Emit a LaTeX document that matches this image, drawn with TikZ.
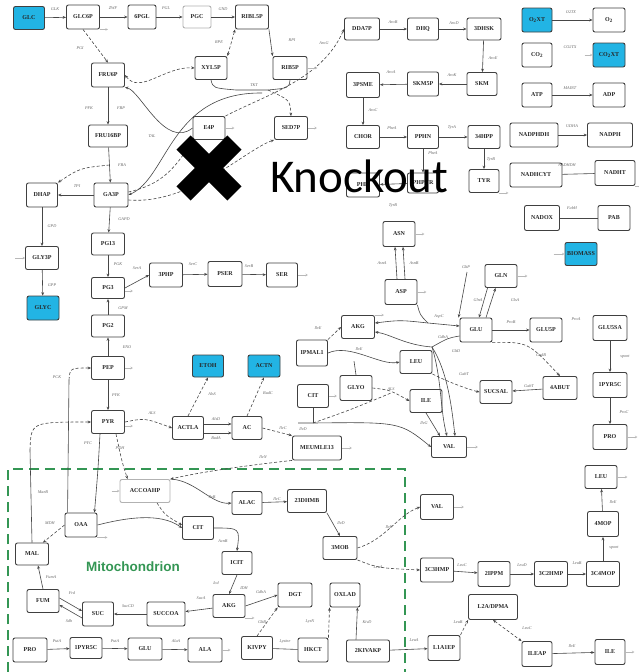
\documentclass[tikz,border=0pt]{standalone}
\usepackage{fontspec}
\setmainfont{Liberation Serif}
\newfontfamily\kofont{Carlito}
\newfontfamily\mitofont{Liberation Sans}
\usetikzlibrary{arrows.meta,calc}
\definecolor{exch}{RGB}{34,180,228}
\definecolor{mitogreen}{RGB}{52,150,84}
\definecolor{edgegray}{RGB}{70,70,70}
\tikzset{
  met/.style={draw=black!75, line width=0.9pt, rounded corners=2pt, fill=white,
    font=\bfseries\fontsize{6}{6.5}\selectfont, inner sep=0.5pt,
    minimum width=32pt, minimum height=23pt, text=black!85},
  ext/.style={met, fill=exch},
  faint/.style={met, draw=black!30},
  rx/.style={draw=edgegray, line width=0.6pt},
  fw/.style={rx, -{Stealth[length=3.4pt,width=2.8pt]}},
  bw/.style={rx, {Stealth[length=3.4pt,width=2.8pt]}-{Stealth[length=3.4pt,width=2.8pt]}},
  dsh/.style={dash pattern=on 3pt off 2pt},
  en/.style={font=\itshape\fontsize{4.2}{4.6}\selectfont, text=black!60, inner sep=0pt},
  drain/.style={draw=black!28, line width=0.6pt, -{Stealth[length=2.5pt,width=2.6pt,open]}},
}
\begin{document}
\begin{tikzpicture}[x=1pt,y=-1pt]
\useasboundingbox (0,0) rectangle (638,672);
\fill[white] (0,0) rectangle (638,672);

% ---------------- mitochondrion frame ----------------
\draw[mitogreen, line width=1.4pt, dash pattern=on 10pt off 6pt] (8,672) -- (8,469) -- (405,469) -- (405,672);
\node[font=\mitofont\bfseries\fontsize{13.5}{14}\selectfont, text=mitogreen] (mitolab) at (133,567) {Mitochondrion};

% ---------------- glycolysis, PPP, serine ----------------
\node[ext, minimum width=31pt] (glc) at (29,18) {GLC};
\node[met, minimum width=33pt, minimum height=24pt] (g6p) at (83,17) {GLC6P};
\node[met, minimum width=28pt, minimum height=24pt] (pgl) at (142,17) {6PGL};
\node[faint, minimum width=28pt, minimum height=22pt] (pgc) at (197,17) {PGC};
\node[met, minimum width=33pt, minimum height=24pt] (ru5p) at (252,17) {RIBL5P};
\node[met] (x5p) at (211,68) {XYL5P};
\node[met, minimum width=34pt] (r5p) at (290,68) {RIB5P};
\node[met] (e4p) at (209,128) {E4P};
\node[met, minimum width=33pt] (s7p) at (291,128) {SED7P};
\node[met, minimum width=33pt, minimum height=24pt] (f6p) at (108,75) {FRU6P};
\node[met, minimum width=39pt, minimum height=22pt] (fdp) at (108,136) {FRU16BP};
\node[met, minimum width=31pt, minimum height=24pt] (dhap) at (42,195) {DHAP};
\node[met, minimum width=34pt, minimum height=24pt] (gap) at (111,195) {GA3P};
\node[met, minimum width=33pt] (g3p) at (42,258) {GLY3P};
\node[ext, minimum height=24pt] (glyc) at (43,308) {GLYC};
\node[met, minimum width=33pt, minimum height=22pt] (pgaa) at (108,244) {PG13};
\node[met, minimum width=33pt, minimum height=21pt] (pgab) at (108,288) {PG3};
\node[met, minimum width=33pt, minimum height=22pt] (pgac) at (108,326) {PG2};
\node[met, minimum width=33pt] (pep) at (108,368) {PEP};
\node[met, minimum width=33pt] (pyr) at (108,422) {PYR};
\node[met, minimum width=33pt, minimum height=24pt] (php) at (166,275) {3PHP};
\node[met, minimum width=34pt, minimum height=25pt] (pser) at (225,274) {PSER};
\node[met, minimum width=31pt, minimum height=24pt] (ser) at (282,275) {SER};

% ---------------- acetolactate branch ----------------
\node[met, minimum width=31pt] (actla) at (188,428) {ACTLA};
\node[met, minimum width=30pt] (ac) at (247,428) {AC};
\node[ext, minimum width=31pt, minimum height=22pt] (etoh) at (208,366) {ETOH};
\node[ext, minimum width=32pt, minimum height=22pt] (actn) at (264,366) {ACTN};
\node[met, minimum width=49pt, minimum height=24pt] (dhmv) at (317,448) {MEUMLE13};

% ---------------- shikimate ----------------
\node[met, minimum width=35pt, minimum height=22pt] (dahp) at (362,29) {DDA7P};
\node[met, minimum width=31pt, minimum height=22pt] (dhq) at (423,29) {DHQ};
\node[met, minimum width=34pt, minimum height=22pt] (dhsk) at (484,29) {3DHSK};
\node[met, minimum width=30pt] (skm) at (482,84) {SKM};
\node[met, minimum width=31pt, minimum height=24pt] (skmp) at (423,84) {SKM5P};
\node[met, minimum width=33pt, minimum height=25pt] (epsp) at (363,85) {3PSME};
\node[met, minimum width=33pt] (chor) at (363,137) {CHOR};
\node[met, minimum width=31pt] (pphn) at (423,137) {PPHN};
\node[met, minimum width=32pt] (hpp) at (484,137) {34HPP};
\node[met, minimum width=33pt, minimum height=24pt] (phe) at (363,185) {PHE};
\node[met, minimum width=31pt, minimum height=20pt] (phpyr) at (423,183) {PHPYR};
\node[met, minimum width=30pt] (tyr) at (484,181) {TYR};

% ---------------- exchange / cofactor pairs ----------------
\node[ext, minimum width=30pt, minimum height=24pt] (oxt) at (537,20) {O\textsubscript{2}XT};
\node[met, minimum width=32pt, minimum height=24pt] (oxy) at (609,20) {O\textsubscript{2}};
\node[met, minimum width=30pt, minimum height=24pt] (cod) at (537,55) {CO\textsubscript{2}};
\node[ext, minimum width=32pt, minimum height=24pt] (codx) at (609,55) {CO\textsubscript{2}XT};
\node[met, minimum width=30pt, minimum height=24pt] (atp) at (537,95) {ATP};
\node[met, minimum width=32pt, minimum height=24pt] (adp) at (609,95) {ADP};
\node[met, minimum width=48pt, minimum height=24pt] (nadphh) at (534,135) {NADPHDH};
\node[met, minimum width=45pt, minimum height=24pt] (nadph) at (610,135) {NADPH};
\node[met, minimum width=52pt, minimum height=24pt] (nadhc) at (536,175) {NADHCYT};
\node[met, minimum width=40pt, minimum height=25pt] (nadht) at (615,173) {NADHT};
\node[met, minimum width=35pt, minimum height=25pt] (nadox) at (542,218) {NADOX};
\node[met, minimum width=32pt, minimum height=25pt] (pab) at (614,218) {PAB};
\node[ext, minimum width=32pt] (biom) at (581,254) {BIOMASS};

% ---------------- amino acids (cytosol) ----------------
\node[met, minimum width=32pt, minimum height=25pt] (asn) at (399,234) {ASN};
\node[met, minimum width=32pt, minimum height=25pt] (asp) at (401,292) {ASP};
\node[met, minimum width=32pt] (gln) at (501,276) {GLN};
\node[met, minimum width=33pt] (akg) at (358,327) {AKG};
\node[met, minimum width=32pt, minimum height=24pt] (glu) at (476,330) {GLU};
\node[met, minimum width=32pt, minimum height=24pt] (glup) at (546,330) {GLU5P};
\node[met, minimum width=34pt, minimum height=25pt] (glusa) at (610,328) {GLU5SA};
\node[met, minimum width=34pt, minimum height=25pt] (pyrc) at (610,385) {1PYR5C};
\node[met, minimum width=34pt, minimum height=25pt] (pro) at (610,437) {PRO};
\node[met, minimum width=34pt] (gaba) at (560,388) {4ABUT};
\node[met, minimum width=32pt] (sucsal) at (496,392) {SUCSAL};
\node[met, minimum width=31pt, minimum height=26pt] (ipmal) at (312,353) {IPMAL1};
\node[met, minimum width=32pt] (leuc) at (416,362) {LEU};
\node[met, minimum width=32pt, minimum height=25pt] (glyo) at (356,388) {GLYO};
\node[met, minimum width=32pt] (ile) at (426,401) {ILE};
\node[met, minimum width=31pt] (citc) at (313,396) {CIT};
\node[met, minimum width=35pt, minimum height=21pt] (valc) at (449,447) {VAL};

% ---------------- mitochondrial ----------------
\node[faint, minimum width=50pt] (accoa) at (145,491) {ACCOAHP};
\node[met, minimum width=32pt, minimum height=24pt] (oaa) at (81,525) {OAA};
\node[met, minimum width=33pt, minimum height=22pt] (mal) at (32,554) {MAL};
\node[met, minimum width=32pt] (fum) at (43,601) {FUM};
\node[met, minimum width=31pt, minimum height=24pt] (suc) at (98,614) {SUC};
\node[met, minimum width=38pt, minimum height=24pt] (succoa) at (166,614) {SUCCOA};
\node[met, minimum width=34pt, minimum height=24pt] (prom) at (30,650) {PRO};
\node[met, minimum width=32pt, minimum height=21pt] (pyrcm) at (86,648) {1PYR5C};
\node[met, minimum width=34pt, minimum height=22pt] (glum) at (145,649) {GLU};
\node[met, minimum width=34pt, minimum height=24pt] (ala) at (205,650) {ALA};
\node[met, minimum width=30pt] (alac) at (247,503) {ALAC};
\node[met, minimum width=39pt] (dhmb) at (307,501) {23DHMB};
\node[met, minimum width=31pt] (cit) at (198,528) {CIT};
\node[met, minimum width=30pt] (icit) at (237,563) {ICIT};
\node[met, minimum width=32pt] (akgm) at (229,606) {AKG};
\node[met, minimum width=34pt, minimum height=24pt] (dgt) at (295,595) {DGT};
\node[met, minimum width=31pt] (kivpy) at (257,648) {KIVPY};
\node[met, minimum width=30pt, minimum height=24pt] (hkct) at (313,650) {HKCT};
\node[met, minimum width=30pt, minimum height=24pt] (oxlad) at (345,595) {OXLAD};
\node[met, minimum width=34pt] (mob) at (340,548) {3MOB};
\node[met, minimum width=43pt, minimum height=22pt] (kivakp) at (368,651) {2KIVAKP};
\node[met, minimum width=32pt, minimum height=25pt] (laep) at (444,648) {L1A1EP};
\node[met, minimum width=49pt, minimum height=25pt] (ladp) at (493,607) {L2A/DPMA};
\node[met, minimum width=30pt, minimum height=25pt] (ileap) at (537,654) {ILEAP};
\node[met, minimum width=30pt, minimum height=25pt] (ilex) at (610,652) {ILE};
\node[met, minimum width=33pt, minimum height=25pt] (valm) at (437,507) {VAL};
\node[met, minimum width=33pt, minimum height=24pt] (cthmp) at (437,570) {3C3HMP};
\node[met, minimum width=32pt, minimum height=25pt] (ipm) at (494,574) {2IPPM};
\node[met, minimum width=33pt, minimum height=25pt] (cthmpb) at (551,574) {3C2HMP};
\node[met, minimum width=33pt, minimum height=25pt] (cmop) at (603,574) {3C4MOP};
\node[met, minimum width=31pt, minimum height=25pt] (mop) at (603,524) {4MOP};
\node[met, minimum width=32pt] (leu) at (601,477) {LEU};

% ================= reactions =================
% upper glycolysis and pentose phosphate
\draw[fw] (glc) -- (g6p);            \node[en] (lglk) at (55,9) {GLK};
\draw[fw] (g6p) -- (pgl);            \node[en] (lzwf) at (113,8) {ZWF};
\draw[fw] (pgl) -- (pgc);            \node[en] (lpgl) at (166,8) {PGL};
\draw[fw] (pgc) -- (ru5p);           \node[en] (lgnd) at (223,9) {GND};
\draw[bw, dsh] (x5p.north east) -- (ru5p.south west); \node[en] (lrpe) at (219,42) {RPE};
\draw[fw] (ru5p.south east) -- (r5p.north west);      \node[en] (lrpi) at (292,40) {RPI};
\coordinate (tktl) at (236,90);
\coordinate (tktr) at (268,90);
\draw[rx] (x5p.south) .. controls (213,88) .. (tktl) -- (tktr) .. controls (289,88) .. (r5p.south);
\node[en] (ltkt) at (254,85) {TKT};
\draw[fw, dsh] (tktr) .. controls (290,100) .. (s7p.north);
\coordinate (tktm) at (262,93);
\draw[fw] (tktm) .. controls (170,92) and (168,178) .. (gap.east);
\draw[fw, dsh] ($(gap.east)+(0,5)$) .. controls (190,205) and (245,150) .. (s7p.south west);
\draw[rx, dsh] ($(gap.east)+(0,-3)$) .. controls (160,185) and (175,170) .. (e4p.south west);
\draw[bw, dsh] (f6p.east) .. controls (140,95) and (165,66) .. (x5p.west);
\draw[fw] (e4p.west) .. controls (165,150) and (140,90) .. (f6p.south east);
\node[en] (ltal) at (152,136) {TAL};
\draw[fw, dsh] (e4p.north east) .. controls (265,95) and (322,80) .. (dahp.west);
\node[en] (laroga) at (324,43) {AroG};
\draw[fw, dsh] (g6p.south) -- (f6p.north);  \node[en] (lpgi) at (80,48) {PGI};
\draw[fw] (f6p) -- (fdp);   \node[en] (lpfk) at (89,108) {PFK}; \node[en] (lfbp) at (121,108) {FBP};
\draw[fw] (fdp) -- (gap);   \node[en] (lfba) at (122,165) {FBA};
\coordinate (fbaj) at ($(fdp.south)!0.5!(gap.north)$);
\draw[fw, dsh] (fbaj) .. controls (80,168) .. (dhap.north east);
\draw[fw] (gap) -- (dhap);  \node[en] (ltpi) at (77,186) {TPI};
\draw[fw] (dhap) -- (g3p);  \node[en] (lgpd) at (52,226) {GPD};
\draw[fw] (g3p) -- (glyc);  \node[en] (lgpp) at (52,285) {GPP};
\draw[fw] (gap) -- (pgaa);  \node[en] (lgapd) at (124,219) {GAPD};
\draw[fw] (pgaa) -- (pgab); \node[en] (lpgk) at (118,264) {PGK};
\draw[fw] (pgac) -- (pgab); \node[en] (lgpm) at (123,308) {GPM};
\draw[fw] (pep) -- (pgac);  \node[en] (leno) at (127,347) {ENO};
\draw[fw] (pep) -- (pyr);   \node[en] (lpyk) at (116,395) {PYK};
\draw[fw] (pgab.east) -- (php.west); \node[en] (lsera) at (137,268) {SerA};
\draw[fw] (php) -- (pser);  \node[en] (lserc) at (193,264) {SerC};
\draw[fw] (pser) -- (ser);  \node[en] (lserb) at (249,266) {SerB};

% pyruvate node
\draw[fw, dsh] (pyr.east) .. controls (145,418) .. (actla.west); \node[en] (lals) at (152,413) {ALS};
\draw[fw] ($(actla.east)+(0,-4)$) -- ($(ac.west)+(0,-4)$); \node[en] (lalsd) at (216,419) {AlsD};
\draw[fw] ($(actla.east)+(0,5)$) -- ($(ac.west)+(0,5)$);   \node[en] (lbuda) at (216,438) {BudA};
\draw[fw, dsh] (actla.north) -- (etoh.south);  \node[en] (lalsx) at (212,394) {AlsS};
\draw[fw, dsh] (ac.north) -- (actn.south);     \node[en] (lbudc) at (268,393) {BudC};
\draw[fw, dsh] (ac.east) -- (dhmv.north west); \node[en] (lilvc) at (283,428) {IlvC};
\draw[fw] ($(pyr.south)+(-8,0)$) .. controls (98,470) .. ($(oaa.north east)+(-3,0)$);
\node[en] (lpyc) at (88,443) {PYC};
\draw[fw, dsh] ($(pyr.south)+(8,0)$) .. controls (122,462) .. ($(accoa.north west)+(8,0)$);
\node[en] (lpdh) at (120,448) {PDH};
\coordinate (pckb) at (69,380);
\draw[rx] ($(oaa.north west)+(3,0)$) -- (pckb);
\draw[fw, dsh] (pckb) .. controls (70,368) .. (pep.west);  \node[en] (lpck) at (57,377) {PCK};
\coordinate (maeb) at (30,450);
\draw[rx] (mal.north) -- (maeb);
\draw[fw, dsh] (maeb) .. controls (31,422) .. (pyr.west);  \node[en] (lmae) at (43,492) {MaeB};

% TCA cycle
\draw[fw, dsh] (oaa.west) -- ($(mal.north east)+(-6,0)$); \node[en] (lmdh) at (50,523) {MDH};
\draw[fw] (fum.north) -- ($(mal.south)+(6,0)$);  \node[en] (lfum) at (51,577) {FumA};
\draw[fw] ($(fum.east)+(0,-3)$) -- ($(suc.west)+(0,-3)$);
\draw[fw] ($(suc.west)+(0,4)$) -- ($(fum.east)+(0,4)$);
\node[en] (lfrd) at (72,593) {Frd}; \node[en] (lsdh) at (69,621) {Sdh};
\draw[fw] (succoa) -- (suc);   \node[en] (lsuc) at (128,606) {SucCD};
\draw[fw] (akgm) -- (succoa);  \node[en] (lsuca) at (201,598) {SucA};
\draw[fw] (oaa.east) .. controls (125,518) and (160,512) .. (cit.west);
\draw[fw, dsh] ($(accoa.south)+(12,0)$) .. controls (165,515) .. ($(cit.west)+(0,-3)$);
\draw[fw] (cit.east) .. controls (240,528) .. (icit.north);  \node[en] (lacn) at (223,541) {AcnB};
\draw[fw] (icit.south) -- (akgm.north);  \node[en] (licd) at (216,583) {Icd}; \node[en] (lidh) at (244,588) {IDH};
\draw[fw] (akgm.east) -- (dgt.west);     \node[en] (lgdh) at (261,592) {GdhA};
\draw[fw, dsh] (kivpy.north) -- (dgt.south west); \node[en] (lgltb) at (262,622) {GltB};
\draw[rx] (kivpy) -- (hkct);             \node[en] (llys) at (285,642) {Lysine};
\draw[fw, dsh] (hkct.north east) -- (oxlad.south west); \node[en] (lhk) at (310,622) {LysN};
\draw[fw] ($(kivakp.north)+(-12,0)$) -- ($(oxlad.south east)+(-3,0)$); \node[en] (lkiv) at (367,622) {KivD};
\draw[fw] (kivakp) -- (laep);            \node[en] (lleua) at (414,640) {LeuA};
\draw[fw, dsh] (laep.north east) -- (ladp.south west); \node[en] (lleub) at (458,622) {LeuB};
\draw[bw, dsh] (ladp.south) -- (ileap.north west);     \node[en] (lleuc) at (527,628) {LeuC};
\draw[fw] (ileap) -- (ilex);             \node[en] (lilve) at (572,646) {IlvE};
\draw[fw] (prom) -- (pyrcm);             \node[en] (lputa) at (57,641) {PutA};
\draw[fw] (pyrcm) -- (glum);             \node[en] (lputb) at (115,641) {PutA};
\draw[fw] (glum) -- (ala);               \node[en] (lala) at (176,641) {AlaA};

% branched-chain synthesis in the mitochondrion
\draw[fw] (accoa.north east) .. controls (195,480) and (212,505) .. (alac.west); \node[en] (lilvb) at (212,497) {IlvB};
\draw[fw] (alac) -- (dhmb);              \node[en] (lilvcm) at (277,499) {IlvC};
\draw[fw] (dhmb.south east) -- (mob.north); \node[en] (lilvd) at (341,523) {IlvD};
\draw[fw, dsh] (mob.east) .. controls (385,540) and (398,515) .. (valm.west); \node[en] (lbat) at (389,527) {IlvE};
\draw[fw, dsh] (mob.south east) .. controls (378,568) .. (cthmp.west); \node[en] (lleum) at (378,567) {LeuA};
\draw[fw] (cthmp) -- (ipm);              \node[en] (lleuc2) at (462,565) {LeuC};
\draw[fw] (ipm) -- (cthmpb);             \node[en] (lleud) at (522,565) {LeuD};
\draw[fw] (cthmpb) -- (cmop);            \node[en] (lleub2) at (577,563) {LeuB};
\draw[fw] (cmop) -- (mop);               \node[en] (lspon) at (614,548) {spont};
\draw[fw] (mop) -- (leu);                \node[en] (lilve2) at (613,502) {IlvE};
\draw[fw, dsh] (dhmv.south west) .. controls (250,465) and (200,472) .. (accoa.north east);
\node[en] (lilvx) at (263,457) {IlvN};

% shikimate pathway
\draw[fw] (dahp) -- (dhq);    \node[en] (larob) at (393,22) {AroB};
\draw[fw] (dhq) -- (dhsk);    \node[en] (larod) at (454,23) {AroD};
\draw[fw] (dhsk) -- (skm);    \node[en] (laroe) at (493,58) {AroE};
\draw[fw] (skm) -- (skmp);    \node[en] (larok) at (452,75) {AroK};
\draw[fw] (skmp) -- (epsp);   \node[en] (laroa) at (391,72) {AroA};
\draw[fw] (epsp) -- (chor);   \node[en] (laroc) at (373,110) {AroC};
\draw[fw] (chor) -- (pphn);   \node[en] (lphea) at (392,128) {PheA};
\draw[fw] (pphn) -- (hpp);    \node[en] (ltyra) at (452,128) {TyrA};
\draw[fw] (pphn) -- (phpyr);  \node[en] (lpheb) at (433,153) {PheA};
\draw[fw] (hpp) -- (tyr);     \node[en] (ltyrb) at (491,160) {TyrB};
\draw[fw] (phpyr) -- (phe);   \node[en] (lilvep) at (393,206) {TyrB};

% exchange pairs
\draw[fw] (oxt) -- (oxy);       \node[en] (lo2t) at (571,12) {O2TX};
\node[en] (lco2t) at (570,47) {CO2TX};
\draw[fw] (atp) -- (adp);       \node[en] (latpm) at (570,88) {MAINT};
\draw[fw] (nadphh) -- (nadph);  \node[en] (ludh) at (572,126) {UDHA};
\draw[rx] (nadhc) -- (nadht);   \node[en] (lndh) at (567,165) {NADHDH};
\draw[rx] (nadox) -- (pab);     \node[en] (lfab) at (572,208) {FabH};

% amino acid network (cytosol)
\draw[fw] ($(asp.north)+(-4,0)$) -- ($(asn.south)+(-4,0)$); \node[en] (lasna) at (382,263) {AsnA};
\draw[fw] ($(asp.north)+(4,0)$) -- ($(asn.south)+(4,0)$);   \node[en] (lasnb) at (414,263) {AsnB};
\coordinate (aspj) at (428,323);
\draw[rx] (asp.south east) .. controls (420,315) .. (aspj);
\draw[bw] ($(akg.east)+(0,-4)$) .. controls (400,320) .. (aspj) -- ($(glu.west)+(0,-4)$);
\node[en] (laspc) at (439,317) {AspC};
\coordinate (hub) at (432,347);
\draw[fw] (hub) .. controls (405,345) and (390,334) .. ($(akg.east)+(0,5)$);
\draw[rx] ($(glu.west)+(0,6)$) .. controls (448,338) .. (hub);
\draw[fw] (hub) .. controls (442,380) and (440,410) .. ($(valc.north)+(-2,0)$);
\draw[fw] (hub) .. controls (448,372) and (452,410) .. ($(valc.north)+(6,0)$);
\node[en] (lgdha) at (443,337) {GdhA}; \node[en] (lglts) at (456,351) {GltD};
\draw[fw] ($(gln.south west)+(3,0)$) -- ($(glu.north)+(3,0)$);
\draw[fw] ($(glu.north)+(10,0)$) -- ($(gln.south west)+(11,0)$);
\node[en] (lglna) at (478,300) {GlnA}; \node[en] (lglsa) at (515,300) {GlsA};
\coordinate (gltp) at (467,272);
\draw[fw] (gltp) -- ($(glu.north west)+(-1,0)$); \node[en] (lgltp) at (466,267) {GltP};
\draw[fw] (glu) -- (glup);    \node[en] (lprob) at (511,322) {ProB};
\node[en] (lproa) at (576,319) {ProA};
\draw[fw] (glusa) -- (pyrc);  \node[en] (lspont) at (625,357) {spont};
\draw[fw] (pyrc) -- (pro);    \node[en] (lproc) at (624,412) {ProC};
\draw[fw, dsh] (glu.south east) .. controls (528,342) .. (gaba.north); \node[en] (lgad) at (541,355) {GadB};
\draw[fw] (gaba) -- (sucsal); \node[en] (lgabt) at (529,386) {GabT};
\draw[fw, dsh] (ipmal.north east) -- (akg.west); \node[en] (lleuaa) at (318,328) {IlvE};
\draw[fw] (ipmal.east) .. controls (350,343) and (380,366) .. (leuc.west); \node[en] (lilv) at (359,349) {IlvE};
\draw[rx] (glyo.north) -- ($(glyo.north)+(-2,-14)$);
\draw[fw, dsh] (leuc.south east) .. controls (448,382) and (470,390) .. (sucsal.west); \node[en] (lgab) at (464,374) {GabT};
\draw[fw, dsh] (glyo.east) .. controls (390,390) .. (ile.west); \node[en] (lalsb) at (391,389) {ALS};
\coordinate (valj) at (313,423);
\coordinate (alsj) at (391,393);
\draw[rx] (citc.south) -- (valj);
\draw[rx, dsh] (valj) .. controls (350,410) .. (alsj);
\draw[fw] ($(valj)+(-15,0)$) -- (valj) .. controls (400,422) .. (valc.west); \node[en] (lilvd2) at (303,429) {IlvD};
\draw[fw] (ile.south) -- ($(valc.north)+(-9,0)$);   \node[en] (lilvg) at (424,423) {IlvG};

% drains and uptakes
\draw[drain] (ser.east) -- ++(10,0);
\draw[drain] (r5p.east) -- ++(10,0);
\draw[drain] (e4p.east) -- ++(9,0);
\draw[drain] (s7p.east) -- ++(9,0);
\draw[drain] (pep.east) -- ++(8,0);
\draw[drain] ($(pyr.east)+(0,4)$) -- ++(8,0);
\draw[drain] ($(pgab.east)+(0,3)$) -- ++(8,0);
\draw[drain] ($(g3p.west)+(-10,0)$) -- (g3p.west);
\draw[drain] (asn.east) -- ++(9,0);
\draw[drain] (asp.east) -- ++(9,0);
\draw[drain] (akg.north east) -- ++(9,0);
\draw[drain] (gln.east) -- ++(10,0);
\draw[drain] ($(biom.west)+(-11,0)$) -- (biom.west);
\draw[drain] (pro.east) -- ++(10,0);
\draw[drain] (leu.east) -- ++(10,0);
\draw[drain] (ilex.east) -- ++(9,0);
\draw[drain] (valc.east) -- ++(11,0);
\draw[drain] (valm.east) -- ++(10,0);
\draw[drain] (dhmv.east) -- ++(10,0);
\draw[drain] (citc.east) -- ++(8,0);
\draw[drain] (tyr.south east) -- ++(9,0);
\draw[drain] (nadht.south east) -- ++(6,0);
\draw[drain] ($(codx.west)+(-8,0)$) -- (codx.west);
\draw[drain] ($(accoa.west)+(-8,0)$) -- (accoa.west);
\draw[drain] (oaa.south east) -- ++(10,0);
\draw[drain] (akgm.south east) -- ++(9,0);
\draw[drain] (ala.east) -- ++(8,0);
\draw[drain] (g6p.south east) -- ++(8,0);

% ---------------- knockout marker ----------------
\fill[black, rotate around={45:(209,168)}] (173,158) rectangle (245,178);
\fill[black, rotate around={-45:(209,168)}] (173,158) rectangle (245,178);
\node[anchor=base west, font=\kofont\fontsize{47}{50}\selectfont, inner sep=0pt] (ko) at (270,192) {Knockout};
\end{tikzpicture}
\end{document}
